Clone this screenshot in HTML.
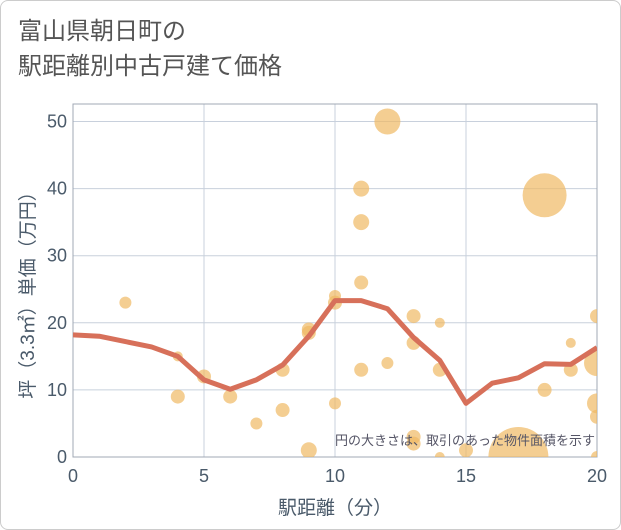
<!DOCTYPE html>
<html><head><meta charset="utf-8"><style>
body{margin:0;background:#fff;}
#card{position:absolute;left:0;top:0;width:619px;height:528px;border:1px solid #ccc;border-radius:8px;background:#fff;overflow:hidden;font-family:"Liberation Sans","Noto Sans CJK JP",sans-serif;}
#title{position:absolute;left:17px;top:13px;font-size:24px;line-height:35px;color:#555;}
svg{position:absolute;left:0;top:0;}
</style></head><body>
<div id="card">
<div id="title">富山県朝日町の<br>駅距離別中古戸建て価格</div>
<svg id="chart" width="621" height="530"></svg>
</div>
<script>
const xTicks=[0,5,10,15,20];
const yTicks=[0,10,20,30,40,50];
const lineX=[0,1,2,3,4,5,6,7,8,9,10,11,12,13,14,15,16,17,18,19,20];
const lineY=[18.2,18.0,17.2,16.4,15,11.5,10.1,11.5,13.7,18,23.3,23.3,22.1,17.8,14.4,8,11,11.8,13.9,13.8,16.3];
const bubX=[2,4,4,5,6,7,8,8,9,9,9,10,10,10,11,11,11,11,12,12,13,13,13,13,14,14,14,15,17,18,18,19,19,20,20,20,20,20];
const bubY=[23,15,9,12,9,5,13,7,19,18.5,1,24,23,8,40,35,26,13,50,14,21,17,3,2,20,13,0,1,0,39,10,17,13,21,14,8,6,0];
const bubR=[6,5,7,7,7,6,7,7,7,7,8,6,7,6,8,8,7,7,13,6,7,7,7,7,5,7,5,7,30,22,7,5,7,7,13,10,7,6];
const X0=72,X1=596,Y0=456,Y1=120.5,TOP=103;
const sx=v=>X0+(v-0)/20*(X1-X0);
const sy=v=>Y0-(v-0)/50*(Y0-Y1);
const svg=document.getElementById('chart');
const NS='http://www.w3.org/2000/svg';
function mk(t,a){const e=document.createElementNS(NS,t);for(const k in a)e.setAttribute(k,a[k]);svg.appendChild(e);return e;}
const defs=mk('clipPath',{id:'clip'});
const cr=document.createElementNS(NS,'rect');cr.setAttribute('x',X0);cr.setAttribute('y',TOP);cr.setAttribute('width',X1-X0);cr.setAttribute('height',Y0-TOP);defs.appendChild(cr);
xTicks.forEach(v=>{const l=mk('line',{x1:sx(v),x2:sx(v),y1:TOP,y2:Y0,stroke:'#c8d0dc','stroke-width':1});

const t=mk('text',{x:sx(v),y:Y0+25,'text-anchor':'middle','font-size':18,fill:'#4a5a6a'});t.textContent=v;
});
yTicks.forEach(v=>{const l=mk('line',{x1:X0,x2:X1,y1:sy(v),y2:sy(v),stroke:'#c8d0dc','stroke-width':1});

const t=mk('text',{x:66,y:sy(v)+6,'text-anchor':'end','font-size':18,fill:'#4a5a6a'});t.textContent=v;
});
const fr=mk('rect',{x:X0,y:TOP,width:X1-X0,height:Y0-TOP,fill:'none',stroke:'#a0a8b4','stroke-width':1});

const g=mk('g',{'clip-path':'url(#clip)'});
bubX.forEach((v,i)=>{const c=document.createElementNS(NS,'circle');
c.setAttribute('cx',sx(v));c.setAttribute('cy',sy(bubY[i]));c.setAttribute('r',bubR[i]);
c.setAttribute('fill','rgba(240,185,100,0.7)');
g.appendChild(c);});
const pl=document.createElementNS(NS,'polyline');
pl.setAttribute('points',lineX.map((v,i)=>sx(v)+','+sy(lineY[i])).join(' '));
pl.setAttribute('fill','none');pl.setAttribute('stroke','#d7705a');pl.setAttribute('stroke-width',5);pl.setAttribute('stroke-linejoin','round');
g.appendChild(pl);
const note=mk('text',{x:594,y:444,'text-anchor':'end','font-size':13,fill:'#556'});note.textContent='円の大きさは、取引のあった物件面積を示す';

const xt=mk('text',{x:sx(10),y:513,'text-anchor':'middle','font-size':19,fill:'#4a5a6a'});xt.textContent='駅距離（分）';

const yt=mk('text',{x:0,y:0,'text-anchor':'middle','font-size':19,fill:'#4a5a6a',transform:'translate(33,'+((TOP+Y0)/2+10)+') rotate(-90)'});yt.textContent='坪（3.3㎡）単価（万円）';

</script>
</body></html>
